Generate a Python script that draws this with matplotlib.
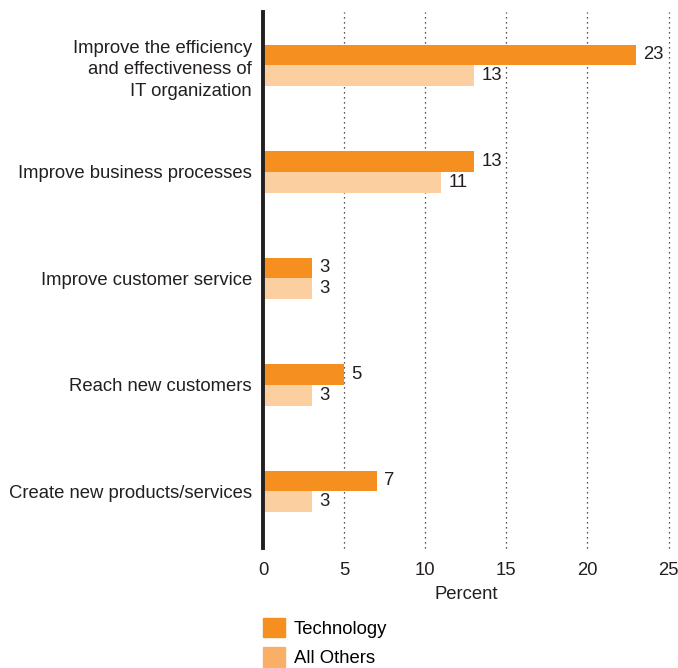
import numpy as np
import matplotlib.pyplot as plt
from matplotlib.patches import Patch

plt.rcParams['font.family'] = ['Liberation Sans', 'DejaVu Sans']

categories = ["Improve the efficiency\nand effectiveness of\nIT organization",
              "Improve business processes",
              "Improve customer service",
              "Reach new customers",
              "Create new products/services"]
technology = [23, 13, 3, 5, 7]
all_others = [13, 11, 3, 3, 3]
ticks = [0, 5, 10, 15, 20, 25]

tech_color = '#F58F1F'
others_color = '#FBCF9F'
others_legend = '#F9B066'
text_color = '#231F20'
fs = 13.3

fig = plt.figure(figsize=(6.78, 6.68), dpi=100)
ax = fig.add_axes([0.388, 0.180, 0.598, 0.802])

y = np.arange(len(categories))
h = 0.195
ax.barh(y - h / 2, technology, height=h, color=tech_color)
ax.barh(y + h / 2, all_others, height=h, color=others_color)

for yi, t, o in zip(y, technology, all_others):
    ax.text(t + 0.45, yi - h / 2, str(t), va='center', ha='left', fontsize=fs, color=text_color)
    ax.text(o + 0.45, yi + h / 2, str(o), va='center', ha='left', fontsize=fs, color=text_color)

ax.set_xlim(0, 25)
ax.set_ylim(len(categories) - 0.47, -0.5)
ax.set_xticks(ticks)
ax.set_xticklabels([str(t) for t in ticks], fontsize=fs, color=text_color)
ax.set_yticks(y)
ax.set_yticklabels(categories, fontsize=fs, color=text_color, ha='right', linespacing=1.35)
ax.tick_params(axis='both', length=0)
ax.tick_params(axis='y', pad=8)
ax.tick_params(axis='x', pad=10)
ax.set_xlabel("Percent", fontsize=fs, color=text_color, labelpad=5)

ax.xaxis.grid(True, linestyle=(0, (1, 3)), color=text_color, linewidth=0.9)
for gl in ax.get_xgridlines():
    gl.set_clip_on(False)
ax.set_axisbelow(True)
for s in ['top', 'right', 'bottom']:
    ax.spines[s].set_visible(False)
ax.spines['left'].set_linewidth(2.8)
ax.spines['left'].set_color(text_color)

handles = [Patch(color=tech_color, label='Technology'),
           Patch(color=others_legend, label='All Others')]
fig.legend(handles=handles, loc='upper left', bbox_to_anchor=(0.388, 0.075),
           frameon=False, fontsize=fs, handlelength=1.2, handleheight=1.25,
           handletextpad=0.45, labelspacing=0.5, borderaxespad=0, borderpad=0)

fig.savefig('out.png', dpi=100)
